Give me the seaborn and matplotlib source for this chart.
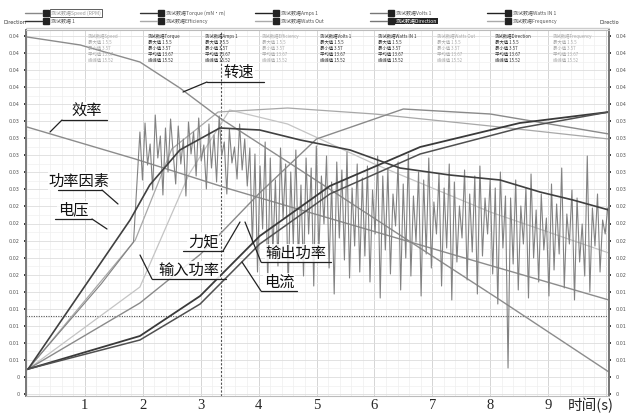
import numpy as np
import pandas as pd
import matplotlib
matplotlib.use("Agg")
import matplotlib.pyplot as plt
import seaborn as sns

sns.set_theme(style="white")
plt.rcParams['font.family'] = ['DejaVu Sans', 'Noto Sans CJK SC']

# ---------------- data (x: time s, y: signal level, chart units) ----------------
speed_t = [0, 0.92, 1.95, 2.64, 3.33, 4.72, 6.44, 8.17, 10.05]
speed_v = [357, 349, 332, 306, 276, 224, 159, 94, 22]

eff_t = [0, 1.87, 3.5, 5.5, 7.5, 10.05]
eff_v = [267, 235, 205, 171, 137, 94]

volt_t = [0.02, 1.78, 2.12, 2.64, 3.33, 4.02, 4.72, 5.58, 6.44, 7.3, 8.17, 8.86, 9.43, 10.05]
volt_v = [25, 174, 209, 244, 266, 264, 254, 244, 226, 219, 214, 202, 194, 184]

pf_t = [0.02, 1.87, 2.5, 3.3, 4.5, 6.0, 8.0, 10.05]
pf_v = [25, 154, 245, 282, 286, 280, 268, 255]

pin_t = [0.02, 1.95, 2.99, 4.02, 5.23, 6.79, 8.51, 10.05]
pin_v = [25, 58, 98, 158, 208, 247, 271, 282]

pout_t = [0.02, 1.95, 2.99, 4.02, 5.23, 6.79, 8.51, 10.05]
pout_v = [25, 54, 90, 150, 200, 240, 266, 282]

amps_t = [0.02, 1.95, 3.0, 4.0, 5.0, 6.5, 8.0, 10.05]
amps_v = [25, 91, 140, 200, 255, 285, 280, 260]

light_t = [0.02, 1.95, 2.8, 3.5, 4.5, 6.0, 8.0, 10.05]
light_v = [25, 107, 220, 284, 270, 230, 182, 141]

torque_t0 = [0, 1.28, 1.84]
torque_v0 = [24, 110, 152]
torque_noise = [
    262, 214, 271, 229, 250, 204, 279, 236, 258, 199,
    266, 222, 275, 241, 210, 268, 230, 255, 198, 272,
    240, 262, 218, 276, 233, 249, 205, 270, 226, 259,
    212, 278, 238, 252, 200, 265, 231, 247, 215, 270,
    224, 255, 208, 246,
    150, 240, 122, 228, 165, 252, 110, 236, 140, 214,
    128, 246, 176, 230, 104, 222, 150, 244, 132, 209,
    118, 236, 160, 226, 108, 248, 142, 218, 170, 238,
    126, 212, 100, 232, 156, 224, 134, 242, 116, 206,
    148, 230, 122, 216,
    138, 228, 112, 204, 160, 238, 96, 218, 144, 226,
    120, 200, 168, 232, 104, 210, 136, 240, 118, 198,
    152, 222, 98, 214, 140, 236, 126, 192, 160, 220,
    108, 206, 146, 230, 94, 212, 132, 188, 156, 224,
    114, 200, 142, 218, 100, 228, 138, 196, 160, 214,
    120, 206, 90, 222, 146, 198,
    26, 196, 130, 214, 104, 188, 150, 206, 96, 220,
    136, 184, 112, 200, 144, 176, 98, 210, 124, 190,
    140, 226, 106, 180, 150, 204, 94, 196, 132, 170,
    118, 238, 102, 186, 148, 200, 122, 174, 160, 186,
]
torque_t = torque_t0 + list(np.linspace(1.95, 10.03, len(torque_noise)))
torque_v = torque_v0 + torque_noise

x_ticks = [1, 2, 3, 4, 5, 6, 7, 8, 9]
y_tick_labels = ["0", "0", "0.01", "0.01", "0.01", "0.01", "0.01", "0.02", "0.02", "0.02", "0.02", "0.02",
                 "0.03", "0.03", "0.03", "0.03", "0.03", "0.04", "0.04", "0.04", "0.04", "0.04"]

labels = [
    ("转速", 239, 72, 207, 264, 82, 183, 92),
    ("效率", 87, 111, 62, 107, 120, 50, 132),
    ("功率因素", 79, 181, 58, 102, 190, 118, 204),
    ("电压", 73, 210, 55, 92, 219, 107, 229),
    ("力矩", 203, 242, 183, 223, 251, 240, 222),
    ("输入功率", 189, 270, 152, 226, 279, 140, 255),
    ("输出功率", 296, 253, 261, 331, 262, 245, 222),
    ("电流", 279, 282, 261, 297, 291, 242, 262),
]

# ---------------- figure ----------------
W, H = 630, 416
fig = plt.figure(figsize=(W / 100, H / 100), dpi=100)
ax = fig.add_axes([26 / W, 1 - 396 / H, (609 - 26) / W, (396 - 30) / H])

X0, DX = 27.0, 57.9
ax.set_xlim((26 - X0) / DX, (609 - X0) / DX)
ax.set_ylim(-2, 364)

def px2d(px, py):
    return (px - X0) / DX, 394 - py

series = [
    (light_t, light_v, "#c4c4c4", 0.9),
    (pf_t, pf_v, "#a8a8a8", 0.9),
    (amps_t, amps_v, "#8a8a8a", 1.0),
    (eff_t, eff_v, "#8c8c8c", 1.0),
    (speed_t, speed_v, "#8c8c8c", 1.0),
    (torque_t, torque_v, "#828282", 0.8),
    (pin_t, pin_v, "#3a3a3a", 1.3),
    (pout_t, pout_v, "#505050", 1.1),
    (volt_t, volt_v, "#404040", 1.2),
]
for t, v, c, lw in series:
    df = pd.DataFrame({"t": t, "v": v})
    sns.lineplot(data=df, x="t", y="v", ax=ax, color=c, lw=lw, sort=False, estimator=None)

# grid
yt = [k * 17.05 for k in range(22)]
for k in np.arange(0, 10.1, 0.2):
    ax.axvline(k, color="#eeeeee", lw=0.5, zorder=0)
for k in range(1, 11):
    ax.axvline(k, color="#d6d6d6", lw=0.7, zorder=0)
for y in yt:
    ax.axhline(y, color="#dddddd", lw=0.6, zorder=0)
    ax.axhline(y + 8.5, color="#f0f0f0", lw=0.5, zorder=0)
ax.axvline(3.35, color="#555555", lw=0.8, ls=(0, (2, 1.5)), zorder=1)
ax.axhline(78, color="#555555", lw=0.8, ls=(0, (1, 1.2)), zorder=1)

ax.set_yticks(yt)
ax.set_yticklabels(y_tick_labels, fontsize=3.5, color="#555555")
ax.tick_params(axis="y", length=1.5, pad=3, labelright=True, right=True, left=True, labelleft=True)
ax.set_xticks(x_ticks)
ax.set_xticklabels([str(v) for v in x_ticks], fontsize=10.5, family=["Liberation Serif"])
ax.tick_params(axis="x", length=0, pad=2)
ax.set_xlabel("")
ax.set_ylabel("")
for s in ["left", "right"]:
    ax.spines[s].set_color("#777777")
    ax.spines[s].set_linewidth(1.4)
for s in ["top", "bottom"]:
    ax.spines[s].set_color("#bbbbbb")
    ax.spines[s].set_linewidth(0.8)

fig.text(591 / W, 1 - 405 / H, "时间(s)", fontsize=10.5, ha="center", va="center",
         family=["Noto Sans CJK SC", "DejaVu Sans"])

# annotation labels
for txt, tx, ty, ux0, ux1, uy, ex, ey in labels:
    a, b = px2d(tx, ty)
    ax.text(a, b, txt, fontsize=11, ha="center", va="center", color="#111111",
            family=["Noto Sans CJK SC", "DejaVu Sans"], zorder=6,
            bbox=dict(facecolor="white", edgecolor="none", pad=0.3, alpha=0.85))
    u0, ub = px2d(ux0, uy)
    u1, _ = px2d(ux1, uy)
    ax.plot([u0, u1], [ub, ub], color="#222222", lw=0.9, zorder=6)
    e0, e1 = px2d(ex, ey)
    near = u0 if abs(ex - ux0) < abs(ex - ux1) else u1
    ax.plot([near, e0], [ub, e1], color="#222222", lw=0.9, zorder=6)

# stats blocks
cols = [88, 148, 205, 262, 320, 378, 437, 495, 553]
names = ["Speed", "Torque", "Amps 1", "Efficiency", "Volts 1", "Watts IN 1", "Watts Out", "Direction", "Frequency"]
for i, (cx, nm) in enumerate(zip(cols, names)):
    col = "#333333" if i in (1, 2, 4, 5, 7) else "#aaaaaa"
    lines = ["测试数据" + nm, "最大值 1 5.5", "最小值 3.57", "平均值 13.67", "峰峰值 15.52"]
    for j, ln in enumerate(lines):
        ax.text(*px2d(cx, 36 + j * 6.2), ln, fontsize=3.2, color=col, ha="left", va="center",
                family=["Noto Sans CJK SC", "DejaVu Sans"], zorder=5)

# legend header
leg1 = [(25, "测试数据Speed (RPM)", True, "#888888"), (140, "测试数据Torque (mN·m)", False, "#333333"),
        (255, "测试数据Amps 1", False, "#222222"), (370, "测试数据Volts 1", False, "#777777"),
        (487, "测试数据Watts IN 1", False, "#222222")]
leg2 = [(25, "测试数据 1", False, "#333333"), (140, "测试数据Efficiency", False, "#aaaaaa"),
        (255, "测试数据Watts Out", False, "#aaaaaa"), (370, "测试数据Direction", "dark", "#777777"),
        (487, "测试数据Frequency", False, "#aaaaaa")]
for row, yy in ((leg1, 13), (leg2, 21)):
    for x0, txt, boxed, lc in row:
        fy = 1 - yy / H
        fig.add_artist(plt.Line2D([x0 / W, (x0 + 17) / W], [fy, fy], color=lc, lw=1.0))
        fig.add_artist(plt.Rectangle(((x0 + 18) / W, fy - 3 / H), 6 / W, 6 / H, color="#222222"))
        kw = {}
        if boxed == "dark":
            kw = dict(color="white", bbox=dict(facecolor="#222222", edgecolor="none", pad=0.6))
        elif boxed:
            kw = dict(color="#999999", bbox=dict(facecolor="white", edgecolor="#444444", pad=0.6, lw=0.6))
        else:
            kw = dict(color="#555555")
        fig.text((x0 + 26) / W, fy, txt, fontsize=3.6, va="center", ha="left",
                 family=["Noto Sans CJK SC", "DejaVu Sans"], **kw)
fig.text(3 / W, 1 - 22 / H, "Direction", fontsize=3.6, va="center", color="#333333")
fig.text(600 / W, 1 - 22 / H, "Directio", fontsize=3.6, va="center", color="#333333")
fig.add_artist(plt.Line2D([26 / W, 609 / W], [1 - 28 / H, 1 - 28 / H], color="#cccccc", lw=1.0))

fig.savefig("out.png", dpi=100, facecolor="white")
